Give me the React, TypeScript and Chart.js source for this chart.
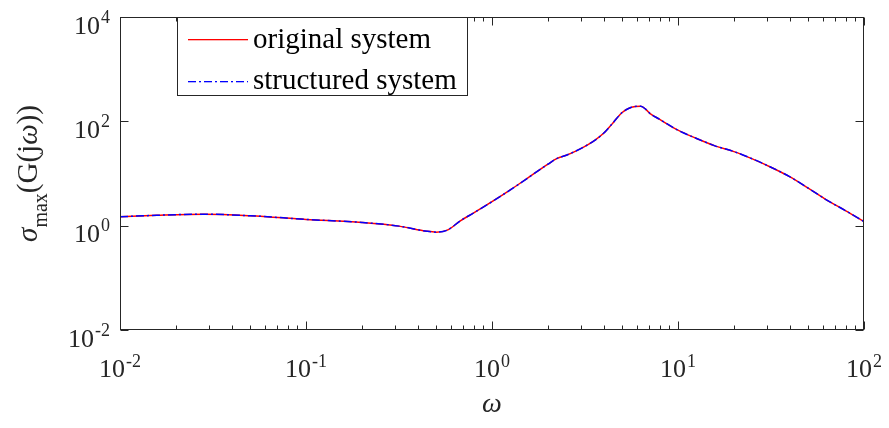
import React, { useEffect, useRef } from "react";
import { Chart, registerables } from "chart.js";

Chart.register(...registerables);

const OMEGA = [0.01, 0.0158, 0.0282, 0.0501, 0.1, 0.2, 0.316, 0.447, 0.501, 0.575, 0.676, 0.794, 1, 1.26, 1.58, 2.0, 2.24, 2.51, 2.82, 3.16, 3.55, 3.98, 4.47, 5.01, 5.62, 6.31, 6.76, 7.08, 7.94, 10, 12.6, 15.8, 20, 25.1, 31.6, 39.8, 50.1, 63.1, 79.4, 100];
const SIGMA_ORIGINAL = [1.48, 1.58, 1.66, 1.55, 1.32, 1.15, 0.98, 0.78, 0.75, 0.82, 1.24, 1.74, 2.88, 4.9, 8.5, 15.1, 19.5, 22.4, 26.9, 33.1, 42.7, 58.9, 93.3, 148, 186, 195, 166, 141, 110, 67.6, 46.8, 33.9, 26.3, 19.1, 13.2, 8.7, 5.25, 3.09, 1.95, 1.2];
const SIGMA_STRUCTURED = [1.48, 1.58, 1.66, 1.55, 1.32, 1.15, 0.98, 0.78, 0.75, 0.82, 1.24, 1.74, 2.88, 4.9, 8.5, 15.1, 19.5, 22.4, 26.9, 33.1, 42.7, 58.9, 93.3, 148, 186, 195, 166, 141, 110, 67.6, 46.8, 33.9, 26.3, 19.1, 13.2, 8.7, 5.25, 3.09, 1.95, 1.2];

const X_TICK_EXPONENTS = [-2, -1, 0, 1, 2];
const Y_TICK_EXPONENTS = [-2, 0, 2, 4];
const SERIES_LABELS = ["original system", "structured system"];
const SERIES_COLORS = ["#ff0000", "#0000ff"];
const X_TITLE = "ω";

const AXIS_COLOR = "#262626";
const DASH_DOT = [8, 3, 2, 3];
const FONT = '"Liberation Serif", "Times New Roman", serif';

function drawPower(ctx: CanvasRenderingContext2D, exp: number, cx: number, baseline: number, align: "center" | "right", raise: number) {
  const base = "10";
  const sup = String(exp);
  ctx.font = `26px ${FONT}`;
  const wb = ctx.measureText(base).width;
  ctx.font = `18px ${FONT}`;
  const ws = ctx.measureText(sup).width;
  const total = wb + ws + 1;
  const startX = align === "center" ? cx - total / 2 : cx - total;
  ctx.textAlign = "left";
  ctx.textBaseline = "alphabetic";
  ctx.font = `26px ${FONT}`;
  ctx.fillText(base, startX, baseline);
  ctx.font = `18px ${FONT}`;
  ctx.fillText(sup, startX + wb + 1, baseline - raise);
}

function legendSample(ctx: CanvasRenderingContext2D, x0: number, x1: number, y: number, color: string, dash: number[]) {
  ctx.fillStyle = color;
  if (dash.length === 0) {
    ctx.fillRect(x0, y, x1 - x0, 1.3);
    return;
  }
  let x = x0;
  let k = 0;
  while (x < x1) {
    const len = dash[k % dash.length];
    if (k % 2 === 0) ctx.fillRect(x, y, Math.min(len, x1 - x), 1.3);
    x += len;
    k++;
  }
}

const decorPlugin = {
  id: "decor",
  afterDraw(chart: any) {
    const ctx: CanvasRenderingContext2D = chart.ctx;
    const { left, right, top, bottom } = chart.chartArea;
    const xs = chart.scales.x;
    const ys = chart.scales.y;
    ctx.save();
    ctx.strokeStyle = AXIS_COLOR;
    ctx.lineWidth = 1;
    ctx.setLineDash([]);
    const L = Math.round(left) + 0.5;
    const R = Math.round(right) - 0.5;
    const T = Math.round(top) + 0.5;
    const B = Math.round(bottom) - 0.5;

    ctx.beginPath();
    for (let i = 0; i < X_TICK_EXPONENTS.length; i++) {
      const e = X_TICK_EXPONENTS[i];
      const px = Math.round(xs.getPixelForValue(Math.pow(10, e))) + 0.5;
      ctx.moveTo(px, B); ctx.lineTo(px, B - 8);
      ctx.moveTo(px, T); ctx.lineTo(px, T + 8);
      if (i < X_TICK_EXPONENTS.length - 1) {
        for (let m = 2; m <= 9; m++) {
          const mx = Math.round(xs.getPixelForValue(m * Math.pow(10, e))) + 0.5;
          ctx.moveTo(mx, B); ctx.lineTo(mx, B - 4);
          ctx.moveTo(mx, T); ctx.lineTo(mx, T + 4);
        }
      }
    }
    for (const e of Y_TICK_EXPONENTS) {
      const py = Math.round(ys.getPixelForValue(Math.pow(10, e))) + 0.5;
      ctx.moveTo(L, py); ctx.lineTo(L + 8, py);
      ctx.moveTo(R, py); ctx.lineTo(R - 8, py);
    }
    ctx.stroke();
    ctx.strokeRect(L, T, R - L, B - T);

    ctx.fillStyle = AXIS_COLOR;
    for (const e of X_TICK_EXPONENTS) {
      const px = xs.getPixelForValue(Math.pow(10, e));
      drawPower(ctx, e, px, bottom + 47, "center", 10);
    }
    for (const e of Y_TICK_EXPONENTS) {
      const py = ys.getPixelForValue(Math.pow(10, e));
      drawPower(ctx, e, left - 10, py + 16.5, "right", 11);
    }

    ctx.font = `italic 28px ${FONT}`;
    ctx.textAlign = "center";
    ctx.fillText(X_TITLE, (left + right) / 2, bottom + 82);

    const pieces: [string, string, number][] = [
      ["σ", `italic 29px ${FONT}`, 0],
      ["max", `20px ${FONT}`, 10],
      ["(G(j", `29px ${FONT}`, 0],
      ["ω", `italic 29px ${FONT}`, 0],
      ["))", `29px ${FONT}`, 0],
    ];
    let total = 0;
    const widths: number[] = [];
    for (const p of pieces) { ctx.font = p[1]; const w = ctx.measureText(p[0]).width; widths.push(w); total += w; }
    ctx.save();
    ctx.translate(37, (top + bottom) / 2);
    ctx.rotate(-Math.PI / 2);
    ctx.textAlign = "left";
    let cx = -total / 2;
    pieces.forEach((p, i) => { ctx.font = p[1]; ctx.fillText(p[0], cx, p[2]); cx += widths[i]; });
    ctx.restore();

    const lx0 = 177.5, lx1 = 467.5, ly0 = T, ly1 = 95.5;
    ctx.fillStyle = "#ffffff";
    ctx.fillRect(lx0, ly0, lx1 - lx0, ly1 - ly0);
    ctx.strokeStyle = AXIS_COLOR;
    ctx.strokeRect(lx0, ly0, lx1 - lx0, ly1 - ly0);
    legendSample(ctx, 188, 248, 39, SERIES_COLORS[0], []);
    legendSample(ctx, 188, 248, 81, SERIES_COLORS[1], DASH_DOT);
    ctx.fillStyle = "#000000";
    ctx.font = `29px ${FONT}`;
    ctx.textAlign = "left";
    ctx.fillText(SERIES_LABELS[0], 253, 48);
    ctx.fillText(SERIES_LABELS[1], 253, 89);
    ctx.restore();
  },
};

export default function App() {
  const ref = useRef<HTMLCanvasElement>(null);
  useEffect(() => {
    if (!ref.current) return;
    const chart = new Chart(ref.current, {
      type: "line",
      data: {
        datasets: [
          {
            label: SERIES_LABELS[0],
            data: OMEGA.map((w, i) => ({ x: w, y: SIGMA_ORIGINAL[i] })),
            borderColor: SERIES_COLORS[0],
            borderWidth: 1.5,
            pointRadius: 0,
            order: 2,
            cubicInterpolationMode: "monotone",
          },
          {
            label: SERIES_LABELS[1],
            data: OMEGA.map((w, i) => ({ x: w, y: SIGMA_STRUCTURED[i] })),
            borderColor: SERIES_COLORS[1],
            borderWidth: 1.5,
            borderDash: DASH_DOT,
            pointRadius: 0,
            order: 1,
            cubicInterpolationMode: "monotone",
          },
        ],
      },
      options: {
        animation: false,
        responsive: false,
        devicePixelRatio: 1,
        layout: { padding: { left: 120, top: 17, right: 25, bottom: 98 } },
        scales: {
          x: { type: "logarithmic", min: 0.01, max: 100, display: false },
          y: { type: "logarithmic", min: 0.01, max: 10000, display: false },
        },
        plugins: { legend: { display: false }, tooltip: { enabled: false } },
      },
      plugins: [decorPlugin],
    });
    return () => chart.destroy();
  }, []);
  return (
    <div style={{ position: "absolute", left: 0, top: 0, width: 889, height: 428, background: "#fff" }}>
      <canvas ref={ref} width={889} height={428} style={{ display: "block" }} />
    </div>
  );
}
